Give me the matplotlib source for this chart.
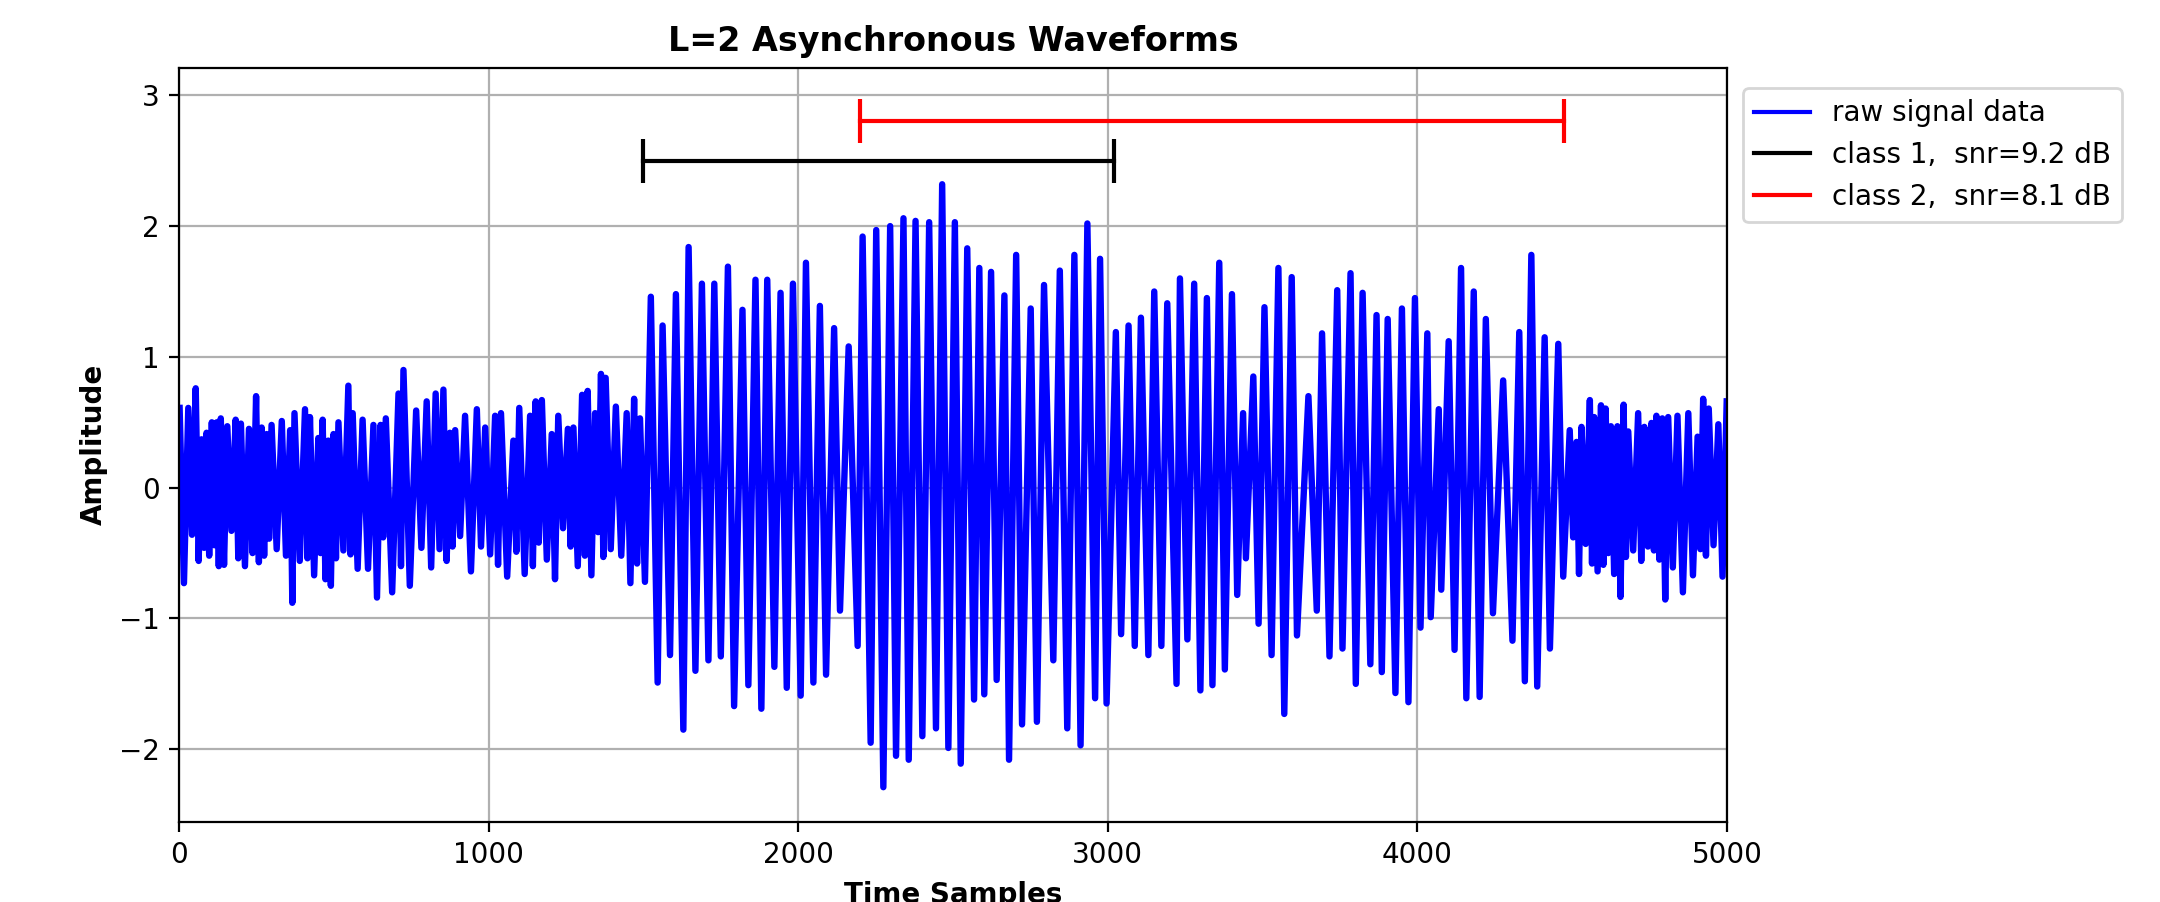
import numpy as np
import matplotlib
matplotlib.use("Agg")
import matplotlib.pyplot as plt
from matplotlib.lines import Line2D

# ---------------- data ----------------
# left noise segment: upward spikes (sample, value) and downward spikes (values, in order)
noise_l_up_pos = [2, 30, 54, 73, 89, 106, 122, 135, 156, 183, 200, 226, 249, 267, 283, 299,
                  332, 359, 373, 407, 423, 450, 464, 482, 499, 515, 547, 561, 593, 628, 651,
                  668, 709, 725, 766, 800, 829, 854, 875, 892, 924, 962, 989, 1021, 1040, 1080,
                  1099, 1134, 1152, 1172, 1204, 1225, 1256, 1274, 1302, 1320, 1344, 1363, 1378,
                  1411, 1446, 1470, 1489]
noise_l_up_val = [0.61, 0.61, 0.76, 0.37, 0.42, 0.50, 0.50, 0.53, 0.47, 0.52, 0.49, 0.45, 0.70,
                  0.46, 0.41, 0.48, 0.51, 0.44, 0.57, 0.60, 0.54, 0.38, 0.52, 0.36, 0.41, 0.50,
                  0.78, 0.57, 0.52, 0.48, 0.48, 0.53, 0.72, 0.90, 0.59, 0.66, 0.72, 0.75, 0.42,
                  0.44, 0.55, 0.60, 0.46, 0.55, 0.57, 0.36, 0.61, 0.55, 0.66, 0.67, 0.41, 0.55,
                  0.45, 0.46, 0.71, 0.74, 0.57, 0.87, 0.84, 0.62, 0.57, 0.68, 0.53]
noise_l_dn_val = [-0.73, -0.36, -0.56, -0.46, -0.52, -0.44, -0.60, -0.59, -0.33, -0.54, -0.60,
                  -0.50, -0.57, -0.52, -0.39, -0.47, -0.52, -0.88, -0.56, -0.54, -0.67, -0.50,
                  -0.70, -0.75, -0.54, -0.48, -0.51, -0.62, -0.62, -0.84, -0.38, -0.80, -0.60,
                  -0.75, -0.46, -0.61, -0.47, -0.56, -0.45, -0.37, -0.64, -0.45, -0.51, -0.59,
                  -0.68, -0.49, -0.66, -0.60, -0.42, -0.55, -0.70, -0.31, -0.45, -0.60, -0.52,
                  -0.67, -0.34, -0.53, -0.47, -0.52, -0.73, -0.58, -0.72]

# burst segment: oscillation crests and troughs (sample, value)
burst_up_pos = [1524, 1562, 1605, 1646, 1689, 1729, 1773, 1820, 1862, 1900, 1943, 1983, 2025,
                2070, 2116, 2163, 2208, 2252, 2297, 2340, 2379, 2423, 2465, 2506, 2546, 2585,
                2623, 2666, 2704, 2751, 2794, 2845, 2892, 2934, 2975, 3026, 3067, 3107, 3150,
                3192, 3233, 3279, 3320, 3360, 3401, 3437, 3470, 3506, 3551, 3594, 3648, 3692,
                3741, 3784, 3823, 3868, 3904, 3950, 3992, 4032, 4069, 4101, 4141, 4182, 4221,
                4277, 4329, 4368, 4411, 4455]
burst_up_val = [1.46, 1.24, 1.48, 1.84, 1.56, 1.56, 1.69, 1.36, 1.59, 1.59, 1.49, 1.56, 1.72,
                1.39, 1.22, 1.08, 1.92, 1.97, 2.00, 2.06, 2.04, 2.03, 2.32, 2.03, 1.83, 1.68,
                1.65, 1.47, 1.78, 1.37, 1.55, 1.66, 1.78, 2.02, 1.75, 1.19, 1.24, 1.30, 1.50,
                1.41, 1.60, 1.56, 1.45, 1.72, 1.48, 0.57, 0.85, 1.38, 1.68, 1.61, 0.70, 1.18,
                1.51, 1.64, 1.49, 1.32, 1.29, 1.37, 1.45, 1.18, 0.60, 1.12, 1.68, 1.50, 1.29,
                0.82, 1.19, 1.78, 1.15, 1.10]
burst_dn_pos = [1546, 1586, 1629, 1668, 1710, 1750, 1793, 1839, 1881, 1923, 1963, 2008, 2049,
                2090, 2135, 2192, 2234, 2275, 2316, 2357, 2401, 2445, 2485, 2525, 2568, 2601,
                2641, 2681, 2723, 2771, 2824, 2869, 2912, 2959, 2996, 3043, 3087, 3131, 3173,
                3222, 3257, 3299, 3338, 3378, 3418, 3446, 3487, 3529, 3570, 3611, 3675, 3716,
                3758, 3801, 3848, 3885, 3929, 3971, 4010, 4043, 4077, 4120, 4158, 4201, 4244,
                4307, 4347, 4387, 4428, 4471]
burst_dn_val = [-1.49, -1.28, -1.85, -1.40, -1.32, -1.29, -1.67, -1.51, -1.69, -1.37, -1.53,
                -1.59, -1.49, -1.43, -0.94, -1.21, -1.95, -2.29, -2.05, -2.08, -1.90, -1.84,
                -1.99, -2.11, -1.62, -1.58, -1.47, -2.08, -1.81, -1.79, -1.32, -1.84, -1.97,
                -1.61, -1.65, -1.12, -1.21, -1.28, -1.21, -1.50, -1.16, -1.55, -1.51, -1.39,
                -0.82, -0.54, -1.04, -1.28, -1.73, -1.13, -0.94, -1.29, -1.23, -1.50, -1.35,
                -1.41, -1.57, -1.64, -1.07, -0.99, -0.78, -1.24, -1.61, -1.60, -0.96, -1.17,
                -1.48, -1.52, -1.23, -0.68]

# right noise segment
noise_r_up_pos = [4492, 4514, 4530, 4557, 4571, 4593, 4608, 4625, 4646, 4666, 4681, 4713, 4733,
                  4756, 4772, 4791, 4810, 4840, 4875, 4905, 4923, 4941, 4972, 4999]
noise_r_up_val = [0.44, 0.35, 0.465, 0.67, 0.54, 0.63, 0.605, 0.47, 0.47, 0.635, 0.43, 0.57,
                  0.465, 0.495, 0.55, 0.53, 0.54, 0.55, 0.57, 0.39, 0.68, 0.605, 0.485, 0.66]
noise_r_dn_val = [-0.38, -0.66, -0.43, -0.58, -0.64, -0.59, -0.50, -0.66, -0.835, -0.53, -0.48,
                  -0.56, -0.45, -0.48, -0.55, -0.855, -0.61, -0.80, -0.67, -0.47, -0.52, -0.44,
                  -0.68]

# class activity intervals
class_labels = ["class 1,  snr=9.2 dB", "class 2,  snr=8.1 dB"]
class_start = [1500, 2200]
class_end = [3020, 4474]
class_level = [2.5, 2.8]
class_colors = ["black", "red"]

# ---------------- assemble the raw trace ----------------
def interleave(up_pos, up_val, dn_pos, dn_val):
    pos = np.concatenate([up_pos, dn_pos])
    val = np.concatenate([up_val, dn_val])
    order = np.argsort(pos, kind="stable")
    return pos[order], val[order]

lu = np.array(noise_l_up_pos, float)
l_dn_pos = np.append((lu[:-1] + lu[1:]) / 2.0, 1505.0)
xl, yl = interleave(lu, noise_l_up_val, l_dn_pos, noise_l_dn_val)

xb, yb = interleave(np.array(burst_up_pos, float), burst_up_val,
                    np.array(burst_dn_pos, float), burst_dn_val)

ru = np.array(noise_r_up_pos, float)
r_dn_pos = (ru[:-1] + ru[1:]) / 2.0
xr, yr = interleave(ru, noise_r_up_val, r_dn_pos, noise_r_dn_val)

x_sig = np.concatenate([xl, xb, xr])
y_sig = np.concatenate([yl, yb, yr])

# ---------------- figure ----------------
fig = plt.figure(figsize=(10.8, 4.51), dpi=200)
ax = fig.add_axes([0.08287, 0.08869, 0.71667, 0.83625])

ax.plot(x_sig, y_sig, color="blue", lw=2.3, solid_joinstyle="round")
handles = [Line2D([], [], color="blue", lw=1.5, label="raw signal data")]
for lab, s, e, lev, c in zip(class_labels, class_start, class_end, class_level, class_colors):
    ax.plot([s, e], [lev, lev], color=c, lw=1.5)
    ax.plot([s, e], [lev, lev], color=c, lw=0, marker="|", markersize=15.5,
            markeredgewidth=1.5)
    handles.append(Line2D([], [], color=c, lw=1.5, label=lab))

ax.set_xlim(0, 5000)
ax.set_ylim(-2.556, 3.211)
ax.grid(True)
ax.set_axisbelow(True)
ax.set_title("L=2 Asynchronous Waveforms", fontweight="bold")
ax.set_xlabel("Time Samples", fontweight="bold")
ax.set_ylabel("Amplitude", fontweight="bold")
ax.legend(handles=handles, loc="upper left", bbox_to_anchor=(1.0103, 0.9728),
          borderaxespad=0)

fig.savefig("out.png", dpi=200)
